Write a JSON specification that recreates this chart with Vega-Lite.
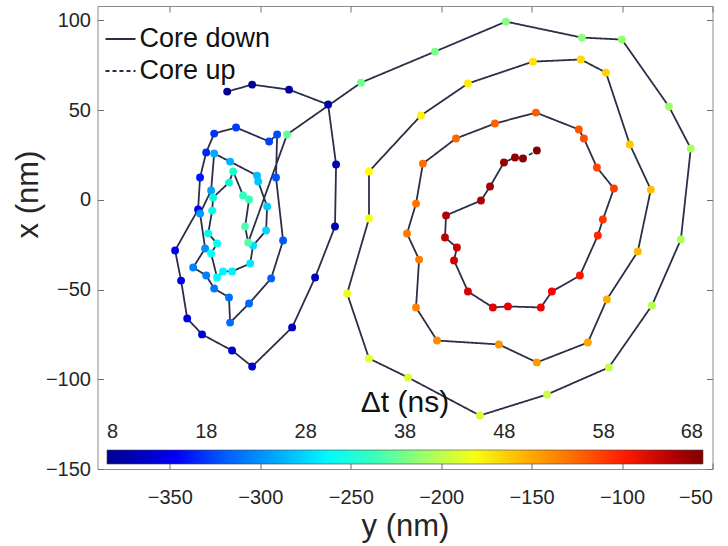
{
  "$schema": "https://vega.github.io/schema/vega-lite/v6.json",
  "width": 615,
  "height": 463,
  "autosize": {"type": "none"},
  "padding": {"left": 97.5, "top": 6, "right": 15.5, "bottom": 77},
  "background": "white",
  "config": {
    "view": {"stroke": "#8c8c8c", "strokeWidth": 1},
    "font": "Liberation Sans",
    "axis": {
      "grid": false,
      "domain": false,
      "tickColor": "#6e6e6e",
      "tickSize": -6,
      "labelFont": "Liberation Sans",
      "labelFontSize": 20,
      "labelColor": "#262626",
      "titleFont": "Liberation Sans",
      "titleFontSize": 31,
      "titleFontWeight": "normal",
      "titleColor": "#262626"
    },
    "legend": {"labelFont": "Liberation Sans", "titleFont": "Liberation Sans", "padding": 0}
  },
  "data": {
    "values": [
      {"y_nm": -318.3, "x_nm": 60.3, "dt": 8.0, "core": "Core down"},
      {"y_nm": -304.5, "x_nm": 64.2, "dt": 8.5, "core": "Core down"},
      {"y_nm": -284.1, "x_nm": 61.4, "dt": 9.0, "core": "Core down"},
      {"y_nm": -262.5, "x_nm": 53.1, "dt": 9.6, "core": "Core down"},
      {"y_nm": -258.1, "x_nm": 19.7, "dt": 10.1, "core": "Core down"},
      {"y_nm": -258.7, "x_nm": -14.9, "dt": 10.6, "core": "Core down"},
      {"y_nm": -269.7, "x_nm": -43.3, "dt": 11.1, "core": "Core down"},
      {"y_nm": -282.4, "x_nm": -71.1, "dt": 11.7, "core": "Core down"},
      {"y_nm": -304.5, "x_nm": -92.9, "dt": 12.2, "core": "Core down"},
      {"y_nm": -315.6, "x_nm": -84.0, "dt": 12.7, "core": "Core down"},
      {"y_nm": -332.2, "x_nm": -75.0, "dt": 13.2, "core": "Core down"},
      {"y_nm": -340.4, "x_nm": -66.1, "dt": 13.7, "core": "Core down"},
      {"y_nm": -343.8, "x_nm": -45.0, "dt": 14.3, "core": "Core down"},
      {"y_nm": -347.1, "x_nm": -28.2, "dt": 14.8, "core": "Core down"},
      {"y_nm": -334.4, "x_nm": -5.4, "dt": 15.3, "core": "Core down"},
      {"y_nm": -333.3, "x_nm": 12.4, "dt": 15.8, "core": "Core down"},
      {"y_nm": -329.9, "x_nm": 26.4, "dt": 16.3, "core": "Core down"},
      {"y_nm": -325.5, "x_nm": 36.9, "dt": 16.9, "core": "Core down"},
      {"y_nm": -313.4, "x_nm": 40.3, "dt": 17.4, "core": "Core down"},
      {"y_nm": -295.1, "x_nm": 32.5, "dt": 17.9, "core": "Core down"},
      {"y_nm": -290.7, "x_nm": 36.4, "dt": 18.4, "core": "Core down"},
      {"y_nm": -291.3, "x_nm": 12.4, "dt": 19.0, "core": "Core down"},
      {"y_nm": -287.4, "x_nm": -22.7, "dt": 19.5, "core": "Core down"},
      {"y_nm": -294.0, "x_nm": -43.8, "dt": 20.0, "core": "Core down"},
      {"y_nm": -306.2, "x_nm": -57.8, "dt": 20.5, "core": "Core down"},
      {"y_nm": -316.7, "x_nm": -68.4, "dt": 21.0, "core": "Core down"},
      {"y_nm": -317.3, "x_nm": -54.4, "dt": 21.6, "core": "Core down"},
      {"y_nm": -325.5, "x_nm": -49.4, "dt": 22.1, "core": "Core down"},
      {"y_nm": -329.9, "x_nm": -42.2, "dt": 22.6, "core": "Core down"},
      {"y_nm": -337.1, "x_nm": -37.7, "dt": 23.1, "core": "Core down"},
      {"y_nm": -330.5, "x_nm": -27.1, "dt": 23.7, "core": "Core down"},
      {"y_nm": -333.3, "x_nm": -7.6, "dt": 24.2, "core": "Core down"},
      {"y_nm": -327.2, "x_nm": 5.2, "dt": 24.7, "core": "Core down"},
      {"y_nm": -325.5, "x_nm": 25.8, "dt": 25.2, "core": "Core down"},
      {"y_nm": -316.7, "x_nm": 21.3, "dt": 25.7, "core": "Core down"},
      {"y_nm": -301.8, "x_nm": 13.5, "dt": 26.3, "core": "Core down"},
      {"y_nm": -301.2, "x_nm": 10.2, "dt": 26.8, "core": "Core down"},
      {"y_nm": -296.2, "x_nm": -3.7, "dt": 27.3, "core": "Core down"},
      {"y_nm": -296.8, "x_nm": -17.1, "dt": 27.8, "core": "Core down"},
      {"y_nm": -304.0, "x_nm": -25.5, "dt": 28.3, "core": "Core down"},
      {"y_nm": -305.6, "x_nm": -35.5, "dt": 28.9, "core": "Core down"},
      {"y_nm": -315.6, "x_nm": -39.9, "dt": 29.4, "core": "Core down"},
      {"y_nm": -320.6, "x_nm": -39.9, "dt": 29.9, "core": "Core down"},
      {"y_nm": -323.9, "x_nm": -43.3, "dt": 30.4, "core": "Core down"},
      {"y_nm": -327.2, "x_nm": -29.9, "dt": 31.0, "core": "Core down"},
      {"y_nm": -323.9, "x_nm": -24.3, "dt": 31.5, "core": "Core down"},
      {"y_nm": -328.8, "x_nm": -18.8, "dt": 32.0, "core": "Core down"},
      {"y_nm": -326.6, "x_nm": -6.0, "dt": 32.5, "core": "Core down"},
      {"y_nm": -326.1, "x_nm": 1.3, "dt": 33.0, "core": "Core down"},
      {"y_nm": -317.3, "x_nm": 9.6, "dt": 33.6, "core": "Core down"},
      {"y_nm": -315.0, "x_nm": 15.8, "dt": 34.1, "core": "Core down"},
      {"y_nm": -309.5, "x_nm": 2.4, "dt": 34.6, "core": "Core down"},
      {"y_nm": -306.2, "x_nm": 0.2, "dt": 35.1, "core": "Core down"},
      {"y_nm": -308.4, "x_nm": -14.9, "dt": 35.7, "core": "Core down"},
      {"y_nm": -306.7, "x_nm": -23.8, "dt": 36.2, "core": "Core down"},
      {"y_nm": -285.2, "x_nm": 36.4, "dt": 36.7, "core": "Core down"},
      {"y_nm": -244.3, "x_nm": 65.3, "dt": 37.2, "core": "Core down"},
      {"y_nm": -203.4, "x_nm": 82.6, "dt": 37.7, "core": "Core down"},
      {"y_nm": -164.2, "x_nm": 99.3, "dt": 38.3, "core": "Core down"},
      {"y_nm": -122.2, "x_nm": 90.4, "dt": 38.8, "core": "Core down"},
      {"y_nm": -100.1, "x_nm": 89.3, "dt": 39.3, "core": "Core down"},
      {"y_nm": -74.1, "x_nm": 52.0, "dt": 39.8, "core": "Core down"},
      {"y_nm": -62.0, "x_nm": 28.6, "dt": 40.3, "core": "Core down"},
      {"y_nm": -67.5, "x_nm": -22.1, "dt": 40.9, "core": "Core down"},
      {"y_nm": -83.5, "x_nm": -58.9, "dt": 41.4, "core": "Core down"},
      {"y_nm": -107.3, "x_nm": -93.4, "dt": 41.9, "core": "Core down"},
      {"y_nm": -141.5, "x_nm": -108.5, "dt": 42.4, "core": "Core down"},
      {"y_nm": -178.6, "x_nm": -120.2, "dt": 43.0, "core": "Core down"},
      {"y_nm": -218.3, "x_nm": -99.0, "dt": 43.5, "core": "Core down"},
      {"y_nm": -239.9, "x_nm": -88.4, "dt": 44.0, "core": "Core down"},
      {"y_nm": -252.0, "x_nm": -52.2, "dt": 44.5, "core": "Core down"},
      {"y_nm": -239.9, "x_nm": -10.4, "dt": 45.0, "core": "Core down"},
      {"y_nm": -239.9, "x_nm": 15.8, "dt": 45.6, "core": "Core down"},
      {"y_nm": -211.2, "x_nm": 47.0, "dt": 46.1, "core": "Core down"},
      {"y_nm": -185.2, "x_nm": 64.8, "dt": 46.6, "core": "Core down"},
      {"y_nm": -149.3, "x_nm": 77.0, "dt": 47.1, "core": "Core down"},
      {"y_nm": -122.8, "x_nm": 78.2, "dt": 47.7, "core": "Core down"},
      {"y_nm": -108.9, "x_nm": 70.9, "dt": 48.2, "core": "Core down"},
      {"y_nm": -95.7, "x_nm": 30.8, "dt": 48.7, "core": "Core down"},
      {"y_nm": -84.1, "x_nm": 5.7, "dt": 49.2, "core": "Core down"},
      {"y_nm": -91.3, "x_nm": -28.8, "dt": 49.7, "core": "Core down"},
      {"y_nm": -108.4, "x_nm": -55.5, "dt": 50.3, "core": "Core down"},
      {"y_nm": -118.9, "x_nm": -79.5, "dt": 50.8, "core": "Core down"},
      {"y_nm": -147.1, "x_nm": -90.6, "dt": 51.3, "core": "Core down"},
      {"y_nm": -168.1, "x_nm": -80.6, "dt": 51.8, "core": "Core down"},
      {"y_nm": -202.3, "x_nm": -78.4, "dt": 52.3, "core": "Core down"},
      {"y_nm": -213.9, "x_nm": -60.0, "dt": 52.9, "core": "Core down"},
      {"y_nm": -212.2, "x_nm": -33.3, "dt": 53.4, "core": "Core down"},
      {"y_nm": -218.9, "x_nm": -18.8, "dt": 53.9, "core": "Core down"},
      {"y_nm": -213.9, "x_nm": -2.1, "dt": 54.4, "core": "Core down"},
      {"y_nm": -210.1, "x_nm": 20.2, "dt": 55.0, "core": "Core down"},
      {"y_nm": -191.8, "x_nm": 34.2, "dt": 55.5, "core": "Core down"},
      {"y_nm": -170.3, "x_nm": 42.5, "dt": 56.0, "core": "Core down"},
      {"y_nm": -147.6, "x_nm": 48.6, "dt": 56.5, "core": "Core down"},
      {"y_nm": -123.9, "x_nm": 39.2, "dt": 57.0, "core": "Core down"},
      {"y_nm": -121.1, "x_nm": 34.2, "dt": 57.6, "core": "Core down"},
      {"y_nm": -113.9, "x_nm": 18.0, "dt": 58.1, "core": "Core down"},
      {"y_nm": -104.5, "x_nm": 6.3, "dt": 58.6, "core": "Core down"},
      {"y_nm": -110.6, "x_nm": -11.0, "dt": 59.1, "core": "Core down"},
      {"y_nm": -113.4, "x_nm": -19.9, "dt": 59.7, "core": "Core down"},
      {"y_nm": -123.3, "x_nm": -42.2, "dt": 60.2, "core": "Core down"},
      {"y_nm": -138.8, "x_nm": -51.1, "dt": 60.7, "core": "Core down"},
      {"y_nm": -144.9, "x_nm": -60.0, "dt": 61.2, "core": "Core down"},
      {"y_nm": -163.1, "x_nm": -59.4, "dt": 61.7, "core": "Core down"},
      {"y_nm": -171.4, "x_nm": -60.0, "dt": 62.3, "core": "Core down"},
      {"y_nm": -185.2, "x_nm": -51.1, "dt": 62.8, "core": "Core down"},
      {"y_nm": -192.9, "x_nm": -33.8, "dt": 63.3, "core": "Core down"},
      {"y_nm": -191.3, "x_nm": -26.6, "dt": 63.8, "core": "Core down"},
      {"y_nm": -197.9, "x_nm": -21.0, "dt": 64.3, "core": "Core down"},
      {"y_nm": -197.3, "x_nm": -8.7, "dt": 64.9, "core": "Core down"},
      {"y_nm": -178.0, "x_nm": -0.4, "dt": 65.4, "core": "Core down"},
      {"y_nm": -173.0, "x_nm": 7.4, "dt": 65.9, "core": "Core down"},
      {"y_nm": -165.3, "x_nm": 20.8, "dt": 66.4, "core": "Core down"},
      {"y_nm": -159.2, "x_nm": 23.6, "dt": 67.0, "core": "Core down"},
      {"y_nm": -154.8, "x_nm": 23.0, "dt": 67.5, "core": "Core down"},
      {"y_nm": -154.8, "x_nm": 23.0, "dt": 67.5, "core": "Core up"},
      {"y_nm": -147.1, "x_nm": 27.5, "dt": 68.0, "core": "Core up"}
    ]
  },
  "layer": [
    {
      "mark": {"type": "line", "color": "#2c2e48", "strokeWidth": 1.8},
      "encoding": {
        "x": {
          "field": "y_nm", "type": "quantitative",
          "scale": {"domain": [-390, -50], "nice": false, "zero": false},
          "axis": {"orient": "bottom", "values": [-350, -300, -250, -200, -150, -100, -50], "labelPadding": 24, "title": "y (nm)", "titlePadding": 4}
        },
        "y": {
          "field": "x_nm", "type": "quantitative",
          "scale": {"domain": [-150, 108], "nice": false, "zero": false},
          "axis": {"orient": "left", "values": [-150, -100, -50, 0, 50, 100], "labelPadding": 13, "title": "x (nm)", "titleY": 188, "titleX": -53}
        },
        "order": {"field": "dt", "type": "quantitative"},
        "strokeDash": {
          "field": "core", "type": "nominal",
          "scale": {"domain": ["Core down", "Core up"], "range": [[1, 0], [4, 3]]},
          "legend": {
            "title": null,
            "orient": "none",
            "legendX": 7,
            "legendY": 17,
            "symbolType": "stroke",
            "symbolSize": 900,
            "symbolStrokeWidth": 1.8,
            "symbolStrokeColor": "#2c2e48",
            "labelFontSize": 27,
            "labelColor": "#111111",
            "labelOffset": 3,
            "rowPadding": 3
          }
        }
      }
    },
    {
      "transform": [{"filter": "datum.core === 'Core down' || datum.dt === 68"}],
      "mark": {"type": "circle", "size": 62, "opacity": 1},
      "encoding": {
        "x": {
          "field": "y_nm", "type": "quantitative",
          "axis": {"orient": "top", "values": [-350, -300, -250, -200, -150, -100, -50], "labels": false, "title": null}
        },
        "y": {
          "field": "x_nm", "type": "quantitative",
          "axis": {"orient": "right", "values": [-150, -100, -50, 0, 50, 100], "labels": false, "title": null}
        },
        "color": {
          "field": "dt", "type": "quantitative",
          "scale": {
            "type": "linear",
            "domain": [8, 15.5, 23, 30.5, 38, 45.5, 53, 60.5, 68],
            "range": ["#000090", "#0000ff", "#0080ff", "#00ffff", "#80ff80", "#ffff00", "#ff8000", "#ff0000", "#800000"]
          },
          "legend": {
            "title": "Δt (ns)",
            "orient": "none",
            "direction": "horizontal",
            "legendX": 9.5,
            "legendY": 382,
            "gradientLength": 596,
            "gradientThickness": 14,
            "gradientStrokeColor": "#444444",
            "gradientStrokeWidth": 0.6,
            "values": [8, 18, 28, 38, 48, 58, 68],
            "labelFontSize": 20,
            "labelColor": "#262626",
            "labelOffset": -42,
            "titleFontSize": 30,
            "titleFontWeight": "normal",
            "titleColor": "#111111",
            "titleAnchor": "middle",
            "titlePadding": 32
          }
        }
      }
    }
  ],
  "resolve": {"axis": {"x": "independent", "y": "independent"}}
}
